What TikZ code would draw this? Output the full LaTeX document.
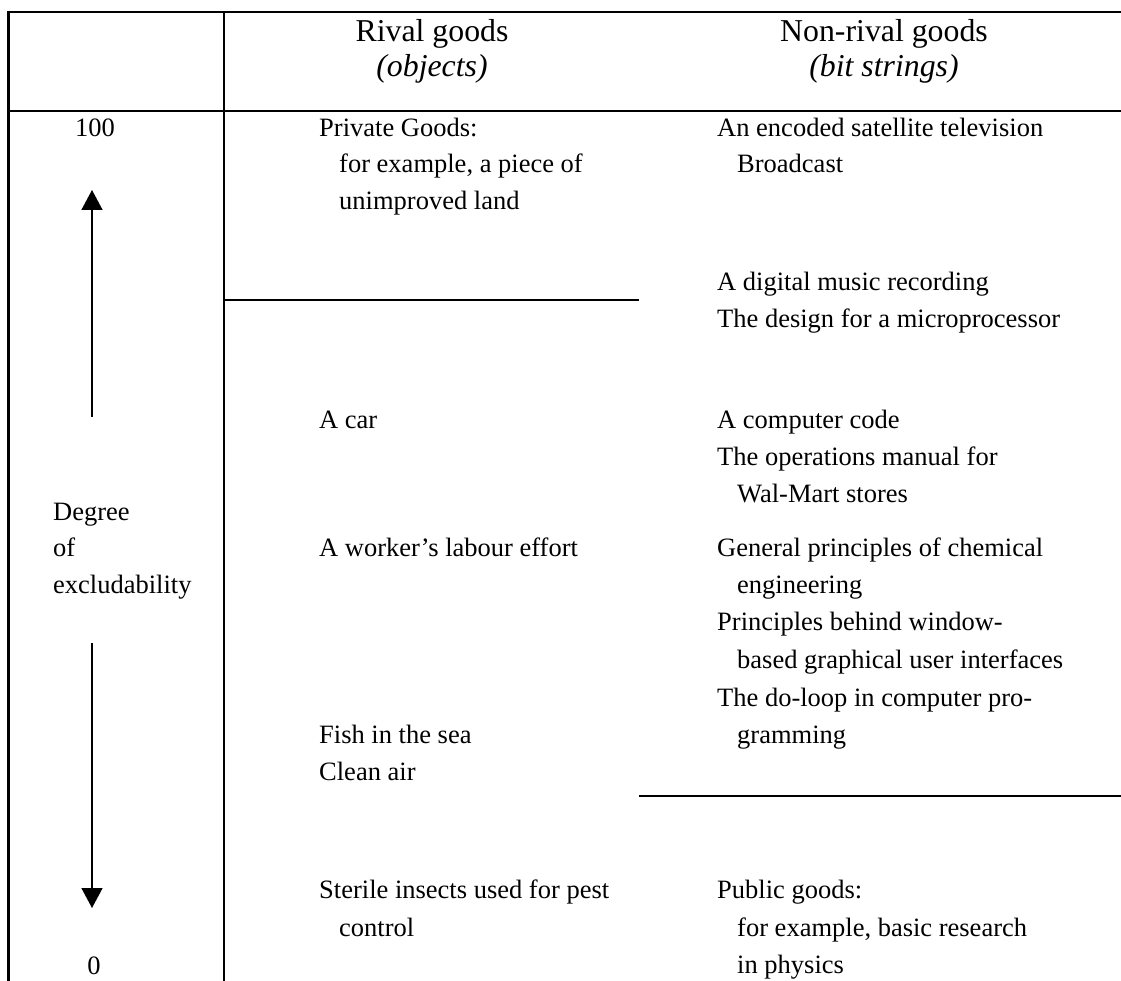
\documentclass[tikz,border=0pt]{standalone}
\usepackage{fontspec}
\setmainfont{Liberation Serif}
\usetikzlibrary{arrows.meta}

\begin{document}
\begin{tikzpicture}[x=1pt,y=-1pt,
  rule/.style={line width=2.4pt},
  item/.style={anchor=base west,inner sep=0pt,font=\fontsize{26.5}{30}\selectfont},
  head/.style={anchor=base,inner sep=0pt,font=\fontsize{31.8}{36}\selectfont},
  scalearrow/.style={line width=1.5pt,-{Triangle[length=20pt,width=21pt]}}]

\useasboundingbox (0,0) rectangle (1121,981);

\def\colA{319}
\def\colB{717}
\def\ind{20}

% table frame
\coordinate (BL) at (8.5,981);
\coordinate (TR) at (1121,12);
\coordinate (HL) at (8.5,111);
\coordinate (HR) at (1121,111);
\coordinate (MT) at (224,12);
\coordinate (MB) at (224,981);
\coordinate (S1) at (224,300);
\coordinate (S2) at (639,300);
\coordinate (P1) at (639,796);
\coordinate (P2) at (1121,796);

\draw[rule] (BL) |- (TR);
\draw[rule] (HL) -- (HR);
\draw[rule] (MT) -- (MB);
\draw[rule] (S1) -- (S2);
\draw[rule] (P1) -- (P2);

% headings
\node[head] (rival) at (432,42) {Rival goods};
\node[head] (rivalsub) at (432,77) {\itshape (objects)};
\node[head] (nonrival) at (884,42) {Non-rival goods};
\node[head] (nonrivalsub) at (884,77) {\itshape (bit strings)};

% scale
\node[item,anchor=base] (top) at (95,137) {100};
\node[item,anchor=base] (bottom) at (94,974) {0};
\node[item] (deg1) at (53,520) {Degree};
\node[item] (deg2) at (53,556) {of};
\node[item] (deg3) at (53,593) {excludability};

\coordinate (U1) at (92,417);
\coordinate (U2) at (92,190);
\coordinate (D1) at (92,643);
\coordinate (D2) at (92,908);
\draw[scalearrow] (U1) -- (U2);
\draw[scalearrow] (D1) -- (D2);

% rival goods
\node[item] (priv1) at (\colA,137) {Private Goods:};
\node[item] (priv2) at (\colA+\ind,173) {for example, a piece of};
\node[item] (priv3) at (\colA+\ind,210) {unimproved land};
\node[item] (car) at (\colA,428) {A car};
\node[item] (labour) at (\colA,556) {A worker's labour effort};
\node[item] (fish) at (\colA,743) {Fish in the sea};
\node[item] (air) at (\colA,780) {Clean air};
\node[item] (insect1) at (\colA,898) {Sterile insects used for pest};
\node[item] (insect2) at (\colA+\ind,936) {control};

% non-rival goods
\node[item] (tv1) at (\colB,137) {An encoded satellite television};
\node[item] (tv2) at (\colB+\ind,173) {Broadcast};
\node[item] (music) at (\colB,291) {A digital music recording};
\node[item] (chip) at (\colB,328) {The design for a microprocessor};
\node[item] (code) at (\colB,428) {A computer code};
\node[item] (manual1) at (\colB,465) {The operations manual for};
\node[item] (manual2) at (\colB+\ind,502) {Wal-Mart stores};
\node[item] (chem1) at (\colB,556) {General principles of chemical};
\node[item] (chem2) at (\colB+\ind,593) {engineering};
\node[item] (gui1) at (\colB,630) {Principles behind window-};
\node[item] (gui2) at (\colB+\ind,668) {based graphical user interfaces};
\node[item] (loop1) at (\colB,706) {The do-loop in computer pro-};
\node[item] (loop2) at (\colB+\ind,743) {gramming};
\node[item] (pub1) at (\colB,898) {Public goods:};
\node[item] (pub2) at (\colB+\ind,936) {for example, basic research};
\node[item] (pub3) at (\colB+\ind,973) {in physics};

\end{tikzpicture}
\end{document}
